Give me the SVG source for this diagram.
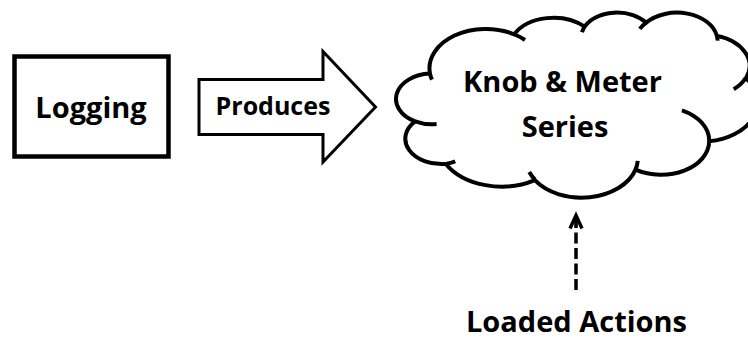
<svg xmlns="http://www.w3.org/2000/svg" width="748" height="339" viewBox="0 0 748 339">
  <style>
    .label { font-family: "Open Sans", "Liberation Sans", sans-serif; font-weight: 700; fill: #000; text-anchor: middle; }
    .outline { fill: #fff; stroke: #000; }
    .cloud-line { fill: #fff; stroke: #000; stroke-width: 4; stroke-linejoin: round; }
    .cloud-hook { fill: none; stroke: #000; stroke-width: 4; stroke-linecap: butt; }
    .dash { fill: none; stroke: #000; stroke-width: 3.5; stroke-dasharray: 11 4.5; }
    .head { fill: none; stroke: #000; stroke-width: 3.5; stroke-linejoin: miter; }
  </style>
  <rect width="748" height="339" fill="#fff"/>

  <!-- Logging box -->
  <g id="logging">
    <rect class="outline" x="14.5" y="56.5" width="154" height="100" stroke-width="4.5"/>
    <text class="label" x="91" y="118" font-size="29">Logging</text>
  </g>

  <!-- Block arrow labelled "Produces" -->
  <g id="produces">
    <polygon class="outline" stroke-width="3" stroke-linejoin="miter"
             points="199,79.5 323,79.5 323,51.5 375.5,107 323,162 323,134.5 199,134.5"/>
    <text class="label" x="273" y="115" font-size="25">Produces</text>
  </g>

  <!-- Cloud: Knob & Meter Series -->
  <g id="series">
    <path class="cloud-line" d="M430,73.54
      A56.275,39.355 0 0 1 514.22,34.28
      A44.442,31.12 0 0 1 584.64,26.7
      A36.375,25.459 0 0 1 646.12,22.62
      A40.475,28.242 0 0 1 716.83,35.87
      A44.442,31.146 0 0 1 745.99,78.2
      A56.458,39.484 0 0 1 709.21,141.34
      A48.208,33.69 0 0 1 635.48,169.64
      A56.267,39.462 0 0 1 534.84,180.14
      A64.333,45.149 0 0 1 445.88,163.89
      A36.333,25.343 0 0 1 415.12,121.4
      A36.208,25.459 0 0 1 430,73.54 Z"/>
    <path class="cloud-hook" d="M436.61,124.1 A36.208,25.459 0 0 1 415.12,121.4
      M455.23,161.45 A36.333,25.343 0 0 1 445.88,163.89
      M534.82,179.4 A56.267,39.462 0 0 1 529.25,171.95
      M637.73,160.82 A56.267,39.462 0 0 1 635.48,169.64
      M681.91,110.3 A48.208,33.69 0 0 1 709.21,141.34
      M745.82,77.75 A44.442,31.146 0 0 1 733.75,89.21
      M716.87,35.24 A40.475,28.242 0 0 1 717.5,40.64
      M639.82,28.92 A40.475,28.242 0 0 1 646.12,22.62
      M582.01,32.21 A36.375,25.459 0 0 1 584.64,26.7
      M514.17,34.23 A56.275,39.355 0 0 1 524.99,40.01
      M431.89,79.62 A56.275,39.355 0 0 1 430,73.54"/>
    <text class="label" x="562.5" y="92" font-size="29">Knob &amp; Meter</text>
    <text class="label" x="565" y="137" font-size="29">Series</text>
  </g>

  <!-- Loaded Actions label -->
  <g id="loaded-actions">
    <text class="label" x="576.5" y="331.5" font-size="29">Loaded Actions</text>
  </g>

  <!-- Connectors -->
  <g id="connectors">
    <path class="dash" d="M576,290 V219"/>
    <polyline class="head" points="570,228.5 576,215.5 582,228.5"/>
  </g>
</svg>
